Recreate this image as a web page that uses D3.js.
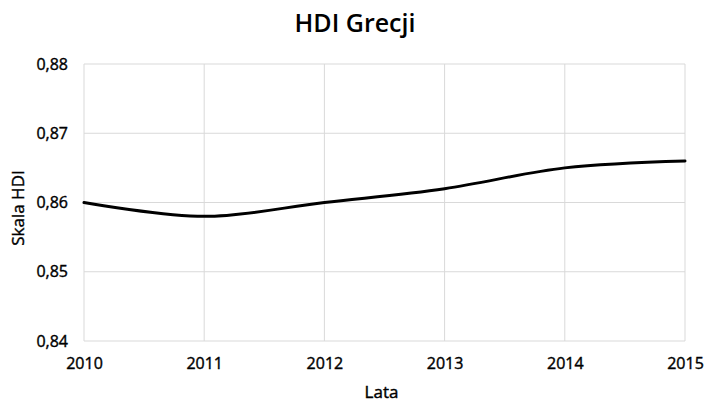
<!DOCTYPE html>
<html>
<head>
<meta charset="utf-8">
<script src="https://cdn.jsdelivr.net/npm/d3@7"></script>
<style>
  body { margin: 0; background: #fff; }
  svg { font-family: "Open Sans", sans-serif; }
  .txt { stroke: #000; stroke-width: 0.4px; fill: #000; }
</style>
</head>
<body>
<div id="chart"></div>
<script>
// data
var years = [2010, 2011, 2012, 2013, 2014, 2015];
var hdi = [0.860, 0.858, 0.860, 0.862, 0.865, 0.866];
var yTicks = [0.84, 0.85, 0.86, 0.87, 0.88];

var W = 706, H = 403;
var margin = {top: 64, right: 21, bottom: 62, left: 84};
var width = W - margin.left - margin.right,
    height = H - margin.top - margin.bottom;

var svg = d3.select("#chart").append("svg")
    .attr("width", W)
    .attr("height", H);

var g = svg.append("g")
    .attr("transform", "translate(" + margin.left + "," + margin.top + ")");

var x = d3.scaleLinear().domain([2010, 2015]).range([0, width]);
var y = d3.scaleLinear().domain([0.84, 0.88]).range([height, 0]);

var fmt = function(d) { return d3.format(".2f")(d).replace(".", ","); };

// gridlines
g.append("g")
  .selectAll("line")
  .data(yTicks)
  .enter().append("line")
    .attr("x1", 0).attr("x2", width)
    .attr("y1", function(d) { return y(d); })
    .attr("y2", function(d) { return y(d); })
    .attr("stroke", "#d9d9d9").attr("stroke-width", 1);

g.append("g")
  .selectAll("line")
  .data(years)
  .enter().append("line")
    .attr("x1", function(d) { return x(d); })
    .attr("x2", function(d) { return x(d); })
    .attr("y1", 0).attr("y2", height)
    .attr("stroke", "#d9d9d9").attr("stroke-width", 1);

// axes
var yAxis = g.append("g")
    .call(d3.axisLeft(y).tickValues(yTicks).tickFormat(fmt).tickSize(0).tickPadding(16));
yAxis.select(".domain").remove();
yAxis.selectAll("text")
    .attr("class", "txt")
    .attr("font-size", 16)
    .attr("font-family", "Open Sans, sans-serif");

var xAxis = g.append("g")
    .attr("transform", "translate(0," + height + ")")
    .call(d3.axisBottom(x).tickValues(years).tickFormat(d3.format("d")).tickSize(0).tickPadding(17));
xAxis.select(".domain").remove();
xAxis.selectAll("text")
    .attr("class", "txt")
    .attr("font-size", 16)
    .attr("font-family", "Open Sans, sans-serif");

// line
var line = d3.line()
    .x(function(d, i) { return x(years[i]); })
    .y(function(d) { return y(d); })
    .curve(d3.curveCatmullRom.alpha(0.5));

g.append("path")
    .datum(hdi)
    .attr("fill", "none")
    .attr("stroke", "#000")
    .attr("stroke-width", 3)
    .attr("stroke-linecap", "round")
    .attr("d", line);

// titles
svg.append("text")
    .attr("x", W / 2 + 2).attr("y", 32)
    .attr("text-anchor", "middle")
    .attr("font-size", 25)
    .attr("font-weight", 600)
    .text("HDI Grecji");

svg.append("text")
    .attr("class", "txt")
    .attr("x", margin.left + width / 2 - 3).attr("y", 398)
    .attr("text-anchor", "middle")
    .attr("font-size", 17)
    .text("Lata");

svg.append("text")
    .attr("class", "txt")
    .attr("transform", "translate(24,208) rotate(-90)")
    .attr("text-anchor", "middle")
    .attr("font-size", 17)
    .text("Skala HDI");
</script>
</body>
</html>
